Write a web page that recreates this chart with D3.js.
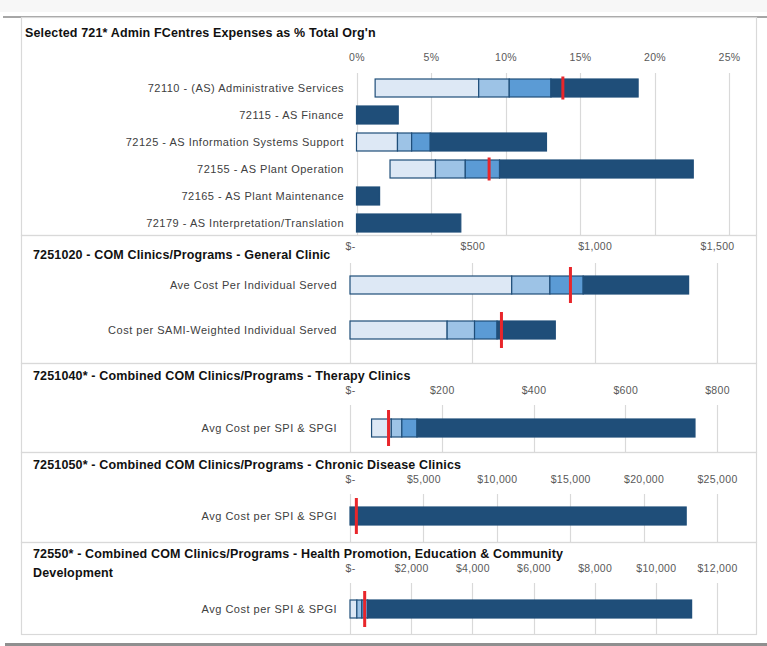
<!DOCTYPE html>
<html><head><meta charset="utf-8">
<script src="https://cdnjs.cloudflare.com/ajax/libs/d3/7.8.5/d3.min.js"></script>
<style>body{margin:0;background:#fff} svg{display:block}</style>
</head><body><svg id="c" width="767" height="646"></svg>
<script>
// ---------------- DATA ----------------
const p1Title = ["Selected 721* Admin FCentres Expenses as % Total Org'n"];
const p1Categories = ["72110 - (AS) Administrative Services", "72115 - AS Finance", "72125 - AS Information Systems Support", "72155 - AS Plant Operation", "72165 - AS Plant Maintenance", "72179 - AS Interpretation/Translation"];
const p1Min    = [1.25, 0, 0, 2.25, 0, 0];
const p1Q1     = [8.2, 0, 2.75, 5.3, 0, 0];
const p1Median = [10.25, 0, 3.7, 7.3, 0, 0];
const p1Q3     = [13.05, 0, 4.95, 9.6, 0, 0];
const p1Max    = [18.9, 2.8, 12.75, 22.6, 1.55, 7.0];
const p1Actual = [13.85, null, null, 8.9, null, null];
const p1Ticks  = [0, 5, 10, 15, 20, 25];

const p2Title = ["7251020 - COM Clinics/Programs - General Clinic"];
const p2Categories = ["Ave Cost Per Individual Served", "Cost per SAMI-Weighted Individual Served"];
const p2Min    = [0, 0];
const p2Q1     = [661, 397];
const p2Median = [817, 509];
const p2Q3     = [953, 601];
const p2Max    = [1384, 839];
const p2Actual = [901, 619];
const p2Ticks  = [0, 500, 1000, 1500];

const p3Title = ["7251040* - Combined COM Clinics/Programs - Therapy Clinics"];
const p3Categories = ["Avg Cost per SPI & SPGI"];
const p3Min    = [47];
const p3Q1     = [90];
const p3Median = [113];
const p3Q3     = [146];
const p3Max    = [752];
const p3Actual = [84];
const p3Ticks  = [0, 200, 400, 600, 800];

const p4Title = ["7251050* - Combined COM Clinics/Programs - Chronic Disease Clinics"];
const p4Categories = ["Avg Cost per SPI & SPGI"];
const p4Min    = [0];
const p4Q1     = [0];
const p4Median = [0];
const p4Q3     = [0];
const p4Max    = [22900];
const p4Actual = [433];
const p4Ticks  = [0, 5000, 10000, 15000, 20000, 25000];

const p5Title = ["72550* - Combined COM Clinics/Programs - Health Promotion, Education & Community", "Development"];
const p5Categories = ["Avg Cost per SPI & SPGI"];
const p5Min    = [0];
const p5Q1     = [224];
const p5Median = [385];
const p5Q3     = [577];
const p5Max    = [11170];
const p5Actual = [480];
const p5Ticks  = [0, 2000, 4000, 6000, 8000, 10000, 12000];

// ---------------- STYLE ----------------
const C = {light: "#dde8f5", midLight: "#9dc3e6", mid: "#5b9bd5", dark: "#1f4e79", red: "#e8262b", grid: "#d9d9d9", border: "#d9d9d9"};
const FONT = "'Liberation Sans', Arial, sans-serif";
const pct = v => v + "%";
const cur = v => v === 0 ? "$-" : "$" + d3.format(",")(v);

const svg = d3.select("#c");
const frameL = 21, frameR = 756;

// page decoration
svg.append("rect").attr("x", 0).attr("y", 0).attr("width", 767).attr("height", 12).attr("fill", "#f7f7f7");
svg.append("line").attr("x1", 3).attr("x2", 767).attr("y1", 17).attr("y2", 17).attr("stroke", "#a6a6a6").attr("stroke-width", 2);
svg.append("line").attr("x1", 5).attr("x2", 767).attr("y1", 644.5).attr("y2", 644.5).attr("stroke", "#8f8f8f").attr("stroke-width", 3);

function panel(cfg) {
  const g = svg.append("g");
  // border
  g.append("rect").attr("x", frameL + 0.5).attr("y", cfg.top + 0.5)
    .attr("width", frameR - frameL).attr("height", cfg.bottom - cfg.top)
    .attr("fill", "none").attr("stroke", C.border).attr("stroke-width", 1.2);

  const x = d3.scaleLinear().domain([0, d3.max(cfg.ticks)]).range([cfg.x0, cfg.x1]);
  const y = d3.scaleBand().domain(cfg.cats).range(cfg.yRange).paddingInner(cfg.pi).paddingOuter(cfg.po);

  // gridlines
  g.append("g").selectAll("line").data(cfg.ticks).join("line")
    .attr("x1", d => Math.round(x(d)) + 0.5).attr("x2", d => Math.round(x(d)) + 0.5)
    .attr("y1", cfg.gridTop).attr("y2", cfg.bottom)
    .attr("stroke", C.grid).attr("stroke-width", 1.2);

  // top axis tick labels
  const ax = d3.axisTop(x).tickValues(cfg.ticks).tickFormat(cfg.fmt).tickSize(0).tickPadding(0);
  const axg = g.append("g").attr("transform", `translate(0,${cfg.tickY})`).call(ax);
  axg.select(".domain").remove();
  axg.selectAll("text").attr("font-family", FONT).attr("font-size", 10.5).attr("fill", "#595959")
    .attr("letter-spacing", 0.3).attr("dy", "0.35em");

  // title
  const t = g.append("text").attr("font-family", FONT).attr("font-weight", "bold")
    .attr("font-size", 12.5).attr("letter-spacing", 0.15).attr("fill", "#111");
  cfg.title.forEach((line, i) => {
    t.append("tspan").attr("x", cfg.titleX).attr("y", cfg.titleY + i * 19).attr("dy", "0.35em").text(line);
  });

  // category labels
  g.append("g").selectAll("text").data(cfg.cats).join("text")
    .attr("x", cfg.labelX).attr("y", d => y(d) + y.bandwidth() / 2).attr("dy", "0.35em")
    .attr("text-anchor", "end").attr("font-family", FONT).attr("font-size", 11).attr("letter-spacing", 0.5)
    .attr("fill", "#404040")
    .text(d => d);

  // stacked segments
  const segs = [];
  cfg.cats.forEach((c, i) => {
    const b = [cfg.min[i], cfg.q1[i], cfg.med[i], cfg.q3[i], cfg.max[i]];
    const fills = [C.light, C.midLight, C.mid, C.dark];
    for (let k = 0; k < 4; k++) {
      if (b[k + 1] > b[k]) segs.push({c, a: b[k], b: b[k + 1], fill: fills[k]});
    }
  });
  g.append("g").selectAll("rect").data(segs).join("rect")
    .attr("x", d => x(d.a)).attr("width", d => x(d.b) - x(d.a))
    .attr("y", d => y(d.c)).attr("height", y.bandwidth())
    .attr("fill", d => d.fill).attr("stroke", C.dark).attr("stroke-width", 1.2);

  // actual markers
  const marks = cfg.cats.map((c, i) => ({c, v: cfg.actual[i]})).filter(d => d.v != null);
  g.append("g").selectAll("rect").data(marks).join("rect")
    .attr("x", d => x(d.v) - 1.5).attr("width", 3)
    .attr("y", d => y(d.c) + y.bandwidth() / 2 - cfg.markH / 2).attr("height", cfg.markH)
    .attr("fill", C.red);
}

panel({top: 17, bottom: 235, title: p1Title, titleX: 25, titleY: 33, tickY: 57, gridTop: 73,
  x0: 356.5, x1: 729, ticks: p1Ticks, fmt: pct, cats: p1Categories, yRange: [74.5, 236.5], pi: 1 / 3, po: 1 / 6,
  labelX: 344, min: p1Min, q1: p1Q1, med: p1Median, q3: p1Q3, max: p1Max, actual: p1Actual, markH: 23});

panel({top: 235, bottom: 363, title: p2Title, titleX: 33, titleY: 255, tickY: 246, gridTop: 263,
  x0: 350, x1: 717, ticks: p2Ticks, fmt: cur, cats: p2Categories, yRange: [262.5, 352.5], pi: 0.6, po: 0.3,
  labelX: 337, min: p2Min, q1: p2Q1, med: p2Median, q3: p2Q3, max: p2Max, actual: p2Actual, markH: 36});

panel({top: 363, bottom: 452, title: p3Title, titleX: 33, titleY: 376, tickY: 390.5, gridTop: 405,
  x0: 350, x1: 717, ticks: p3Ticks, fmt: cur, cats: p3Categories, yRange: [405.5, 450.5], pi: 0.6, po: 0.3,
  labelX: 337, min: p3Min, q1: p3Q1, med: p3Median, q3: p3Q3, max: p3Max, actual: p3Actual, markH: 36});

panel({top: 452, bottom: 542, title: p4Title, titleX: 33, titleY: 465, tickY: 479.5, gridTop: 494,
  x0: 350, x1: 717, ticks: p4Ticks, fmt: cur, cats: p4Categories, yRange: [493.5, 538.5], pi: 0.6, po: 0.3,
  labelX: 337, min: p4Min, q1: p4Q1, med: p4Median, q3: p4Q3, max: p4Max, actual: p4Actual, markH: 36});

panel({top: 542, bottom: 634, title: p5Title, titleX: 33, titleY: 554, tickY: 568.5, gridTop: 583,
  x0: 350, x1: 717, ticks: p5Ticks, fmt: cur, cats: p5Categories, yRange: [586.5, 631.5], pi: 0.6, po: 0.3,
  labelX: 337, min: p5Min, q1: p5Q1, med: p5Median, q3: p5Q3, max: p5Max, actual: p5Actual, markH: 36});
</script>
</body></html>
